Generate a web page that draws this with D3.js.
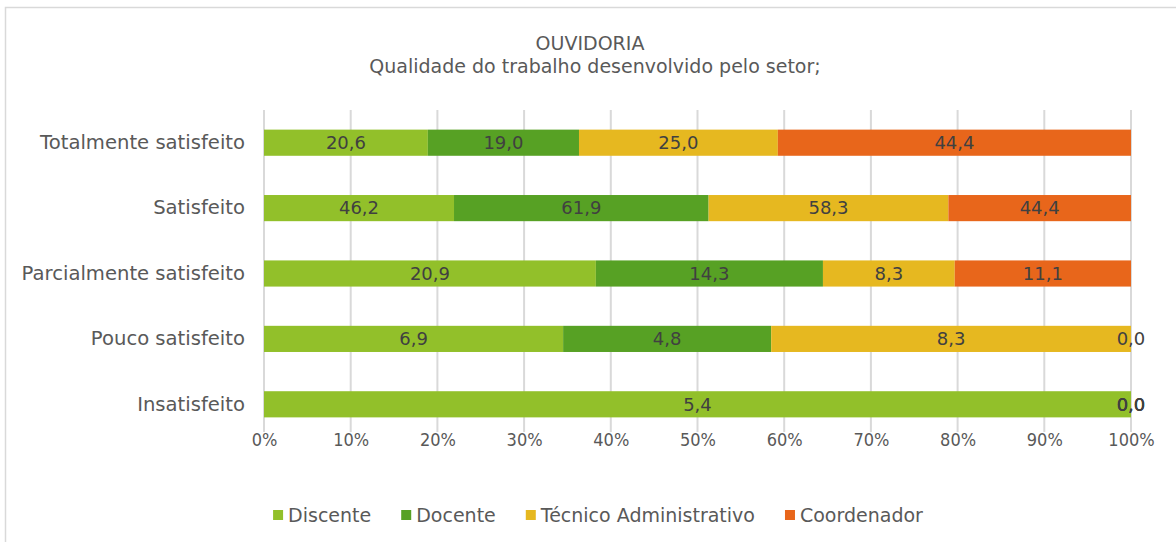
<!DOCTYPE html>
<html>
<head>
<meta charset="utf-8">
<script src="https://cdn.jsdelivr.net/npm/d3@7"></script>
<style>
  body { margin: 0; background: #fff; }
  svg text { font-family: "DejaVu Sans", sans-serif; }
</style>
</head>
<body>
<div class="container"></div>
<script>
var categories = ['Totalmente satisfeito', 'Satisfeito', 'Parcialmente satisfeito', 'Pouco satisfeito', 'Insatisfeito'];
var seriesNames = ['Discente', 'Docente', 'Técnico Administrativo', 'Coordenador'];
var discente = [20.6, 46.2, 20.9, 6.9, 5.4];
var docente = [19.0, 61.9, 14.3, 4.8, 0.0];
var tecnico = [25.0, 58.3, 8.3, 8.3, 0.0];
var coordenador = [44.4, 44.4, 11.1, 0.0, 0.0];
var xTicks = [0, 0.1, 0.2, 0.3, 0.4, 0.5, 0.6, 0.7, 0.8, 0.9, 1];
var colors = ['#92c02a', '#57a124', '#e6b820', '#e8661b'];

var WIDTH = 1176, HEIGHT = 542;

var appendGroupAndTranslateBy = function(x, y, svg) {
	return svg.append('g').attr('transform', 'translate(' + x + ',' + y + ')');
}

var svg = d3.select('.container').append('svg')
	.attr('width', WIDTH)
	.attr('height', HEIGHT);

// chart frame
svg.append('rect')
	.attr('x', 5.5).attr('y', 7.5)
	.attr('width', 1200).attr('height', 600)
	.attr('fill', '#fff')
	.attr('stroke', '#d9d9d9')
	.attr('stroke-width', 1.5);

svg.append('text')
	.attr('x', 590).attr('y', 50)
	.attr('text-anchor', 'middle')
	.attr('font-size', 19).attr('fill', '#595959')
	.text('OUVIDORIA');
svg.append('text')
	.attr('x', 595).attr('y', 73)
	.attr('text-anchor', 'middle')
	.attr('font-size', 19).attr('fill', '#595959')
	.text('Qualidade do trabalho desenvolvido pelo setor;');

var rows = categories.map(function(c, i) {
	return { cat: c, values: [discente[i], docente[i], tecnico[i], coordenador[i]] };
});

var xScale = d3.scaleLinear().domain([0, 1]).range([264, 1131]);
var yScale = d3.scaleBand().domain(categories).range([110, 437]).paddingInner(0.6).paddingOuter(0.3);

// gridlines
svg.selectAll('line.grid').data(xTicks)
	.enter().append('line')
	.attr('class', 'grid')
	.attr('x1', function(d) { return xScale(d); })
	.attr('x2', function(d) { return xScale(d); })
	.attr('y1', 110).attr('y2', 432)
	.attr('stroke', '#d9d9d9').attr('stroke-width', 2);

// axis
var xAxis = d3.axisBottom(xScale).tickValues(xTicks).tickSize(0).tickPadding(0)
	.tickFormat(function(d) { return Math.round(d * 100) + '%'; });
var axisG = appendGroupAndTranslateBy(0, 425, svg).call(xAxis);
axisG.select('.domain').remove();
axisG.selectAll('text')
	.attr('font-size', 18).attr('fill', '#595959')
	.attr('dy', '1.15em')
	.style('font-family', '"DejaVu Sans Condensed", "DejaVu Sans", sans-serif');

var yAxis = d3.axisLeft(yScale).tickSize(0).tickPadding(19);
var yG = appendGroupAndTranslateBy(264, 0, svg).call(yAxis);
yG.select('.domain').remove();
yG.selectAll('text')
	.attr('font-size', 19.6).attr('fill', '#595959')
	.style('font-family', '"DejaVu Sans", sans-serif');

// bars
rows.forEach(function(r) {
	var total = d3.sum(r.values);
	var cum = 0;
	var segs = r.values.map(function(v, j) {
		var s = { v: v, j: j, x0: cum / total, x1: (cum + v) / total };
		cum += v;
		return s;
	});
	var g = svg.append('g');
	g.selectAll('rect').data(segs).enter().append('rect')
		.attr('x', function(d) { return xScale(d.x0); })
		.attr('width', function(d) { return xScale(d.x1) - xScale(d.x0); })
		.attr('y', yScale(r.cat))
		.attr('height', yScale.bandwidth())
		.attr('fill', function(d) { return colors[d.j]; });
	g.selectAll('text').data(segs).enter().append('text')
		.attr('x', function(d) { return (xScale(d.x0) + xScale(d.x1)) / 2; })
		.attr('y', yScale(r.cat) + yScale.bandwidth() / 2)
		.attr('dy', '0.35em')
		.attr('text-anchor', 'middle')
		.attr('font-size', 18).attr('fill', '#404040')
		.text(function(d) { return d.v.toFixed(1).replace('.', ','); });
});

// legend
var legend = svg.append('g');
var lx = 0;
seriesNames.forEach(function(name, j) {
	legend.append('rect')
		.attr('x', lx).attr('y', 510)
		.attr('width', 10).attr('height', 10)
		.attr('fill', colors[j]);
	var t = legend.append('text')
		.attr('x', lx + 15).attr('y', 515)
		.attr('dy', '0.35em')
		.attr('font-size', 19).attr('fill', '#595959')
		.text(name);
	lx += 15 + t.node().getComputedTextLength() + (j < seriesNames.length - 1 ? 30 : 0);
});
legend.attr('transform', 'translate(' + (598 - lx / 2) + ',0)');
</script>
</body>
</html>
